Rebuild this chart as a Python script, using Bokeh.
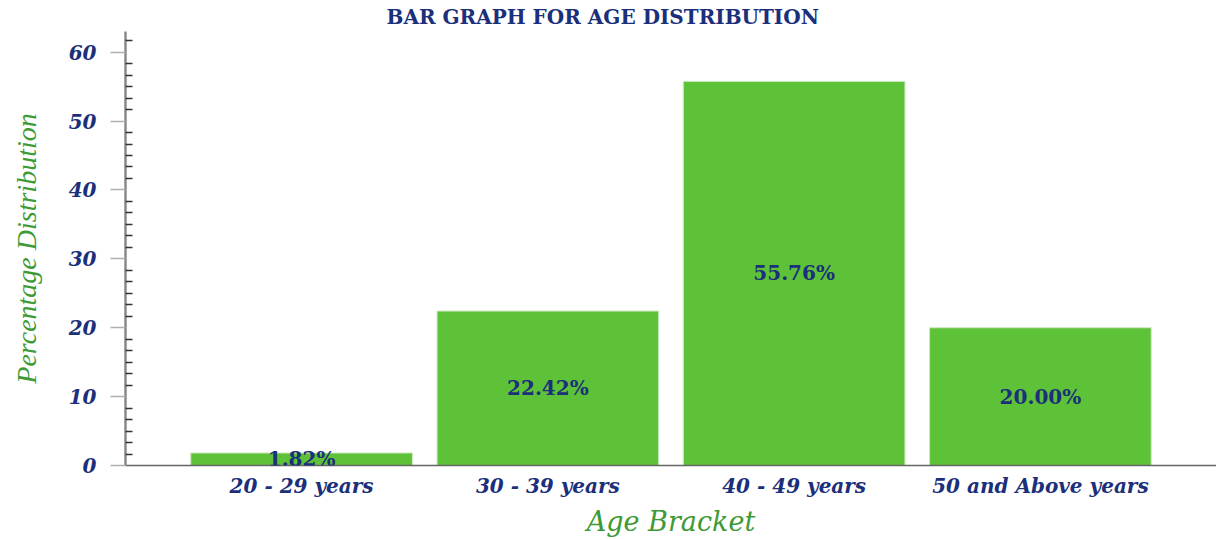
from bokeh.plotting import figure
from bokeh.models import ColumnDataSource, FactorRange, Range1d, FixedTicker, LabelSet, Title
from bokeh.embed import file_html
from bokeh.resources import INLINE
from bokeh.core.properties import value

# ---- data ----
categories = ["20 - 29 years", "30 - 39 years", "40 - 49 years", "50 and Above years"]
percentages = [1.82, 22.42, 55.76, 20.00]
bar_labels = ["1.82%", "22.42%", "55.76%", "20.00%"]
y_major_ticks = [0, 10, 20, 30, 40, 50, 60]

NAVY = "#1b2f7a"
GREEN = "#3d9a34"
BAR = "#5ec238"

src = ColumnDataSource(dict(
    cat=categories,
    val=percentages,
    mid=[v / 2 for v in percentages],
    lab=bar_labels,
))

p = figure(
    x_range=FactorRange(factors=categories, range_padding=0.215, range_padding_units="absolute"),
    y_range=Range1d(0, 63),
    width=1216, height=540,
    min_border_left=125, min_border_right=0, min_border_top=31, min_border_bottom=75,
    output_backend="svg", toolbar_location=None,
)
p.outline_line_color = None
p.xgrid.grid_line_color = None
p.ygrid.grid_line_color = None

p.vbar(x="cat", top="val", width=0.9, source=src,
       fill_color=BAR, line_color="#cfe9c2", line_width=1)

labels = LabelSet(x="cat", y="mid", text="lab", source=src,
                  text_align="center", text_baseline="middle",
                  text_font=value("DejaVu Serif"), text_font_style="bold",
                  text_font_size="20px", text_color=NAVY)
p.add_layout(labels)

# y axis
minor = [i * 10 / 6 for i in range(0, 38) if i % 6 != 0]
p.yaxis.ticker = FixedTicker(ticks=y_major_ticks, minor_ticks=minor)
p.yaxis.axis_line_color = "#8a8a8a"
p.yaxis.axis_line_width = 2.5
p.yaxis.major_tick_line_color = "#b0b0b0"
p.yaxis.major_tick_line_width = 1.5
p.yaxis.major_tick_out = 15
p.yaxis.major_tick_in = 0
p.yaxis.minor_tick_line_color = "#333333"
p.yaxis.minor_tick_line_width = 1.5
p.yaxis.minor_tick_in = 7
p.yaxis.minor_tick_out = 0
p.yaxis.major_label_text_font = "DejaVu Serif"
p.yaxis.major_label_text_font_style = "bold italic"
p.yaxis.major_label_text_font_size = "20px"
p.yaxis.major_label_text_color = NAVY
p.yaxis.major_label_standoff = 14
p.yaxis.axis_label = "Percentage Distribution"
p.yaxis.axis_label_text_font = "Liberation Serif"
p.yaxis.axis_label_text_font_style = "italic"
p.yaxis.axis_label_text_font_size = "28px"
p.yaxis.axis_label_text_color = GREEN
p.yaxis.axis_label_standoff = 24

# x axis
p.xaxis.axis_line_color = "#666666"
p.xaxis.axis_line_width = 1.5
p.xaxis.major_tick_line_color = None
p.xaxis.minor_tick_line_color = None
p.xaxis.major_label_text_font = "DejaVu Serif"
p.xaxis.major_label_text_font_style = "bold italic"
p.xaxis.major_label_text_font_size = "20px"
p.xaxis.major_label_text_color = NAVY
p.xaxis.major_label_standoff = 2
p.xaxis.axis_label = "Age Bracket"
p.xaxis.axis_label_text_font = "DejaVu Serif"
p.xaxis.axis_label_text_font_style = "italic"
p.xaxis.axis_label_text_font_size = "27px"
p.xaxis.axis_label_text_color = GREEN
p.xaxis.axis_label_standoff = 5

title = Title(text="BAR GRAPH FOR AGE DISTRIBUTION", align="left", offset=261,
              text_font="DejaVu Serif", text_font_style="bold",
              text_font_size="20px", text_color=NAVY, standoff=5)
p.add_layout(title, "above")

open("out.html", "w").write(file_html(p, INLINE))
